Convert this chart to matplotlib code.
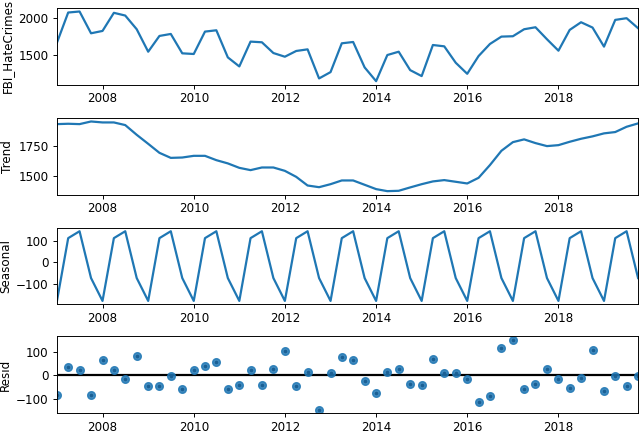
import numpy as np
import pandas as pd
import matplotlib
matplotlib.use("Agg")
from matplotlib import pyplot as plt
import matplotlib.dates as mdates

# quarterly series, 2007Q1 .. 2019Q4
dates = pd.date_range("2007-01-01", periods=52, freq="QS")

observed = [1668, 2077, 2091, 1795, 1827, 2073, 2036, 1850, 1545, 1759, 1786, 1523,
            1514, 1818, 1836, 1468, 1345, 1682, 1673, 1527, 1477, 1555, 1577, 1182,
            1268, 1659, 1677, 1332, 1145, 1500, 1545, 1295, 1214, 1636, 1618, 1395,
            1245, 1486, 1650, 1750, 1755, 1850, 1877, 1714, 1559, 1841, 1945, 1873,
            1614, 1977, 2000, 1864]

trend = [1933, 1936, 1933, 1955, 1947, 1947, 1925, 1844, 1769, 1694, 1652, 1655,
         1669, 1669, 1633, 1606, 1569, 1550, 1572, 1572, 1544, 1494, 1422, 1408,
         1433, 1464, 1464, 1428, 1392, 1375, 1378, 1406, 1433, 1456, 1467, 1453,
         1439, 1486, 1592, 1711, 1783, 1806, 1775, 1750, 1758, 1786, 1811, 1831,
         1856, 1867, 1911, 1939]

season_q = [-180, 111, 143, -74]
seasonal = season_q * 13

resid = [-86, 37, 23, -83, 65, 23, -16, 85, -46, -47, -3, -58,
         24, 40, 58, -58, -42, 23, -40, 26, 105, -46, 13, -148,
         9, 81, 69, -24, -78, 13, 26, -39, -40, 72, 9, 9,
         -16, -114, -88, 118, 154, -60, -36, 29, -16, -53, -9, 112,
         -68, -3, -45, -1]

# figure looks like a default one shrunk by ~0.86, so scale sizes down
s = 0.86
plt.rcParams.update({
    'font.size': 10 * s,
    'axes.linewidth': 0.8 * s,
    'lines.linewidth': 1.6,
    'xtick.major.size': 3.5 * s, 'ytick.major.size': 3.5 * s,
    'xtick.major.pad': 3.0 * s, 'ytick.major.pad': 3.5 * s,
    'xtick.major.width': 0.8 * s, 'ytick.major.width': 0.8 * s,
    'axes.labelpad': 3.0,
})

fig = plt.figure(figsize=(6.4, 4.33), dpi=100)
tops = [0.9815, 0.7275, 0.474, 0.223]
h = 0.177
axes = [fig.add_axes([0.089, t - h, 0.908, h]) for t in tops]

blue = '#1f77b4'
axes[0].plot(dates, observed, color=blue)
axes[0].set_ylabel('FBI_HateCrimes')
axes[1].plot(dates, trend, color=blue)
axes[1].set_ylabel('Trend')
axes[2].plot(dates, seasonal, color=blue)
axes[2].set_ylabel('Seasonal')

ax = axes[3]
ax.plot(dates, resid, marker='o', linestyle='none', color=blue, ms=5.5, alpha=0.85)
ax.plot(dates, resid, marker='o', linestyle='none', color='#1a5f94', ms=1.6)
ax.plot([dates[0], dates[-1]], [0, 0], color='#000000', zorder=-3)
ax.set_ylabel('Resid')

for a in axes:
    a.set_xlim(dates[0], dates[-1])
    a.xaxis.set_major_locator(mdates.YearLocator(2))
    a.xaxis.set_major_formatter(mdates.DateFormatter('%Y'))

fig.savefig('out.png', dpi=100)
